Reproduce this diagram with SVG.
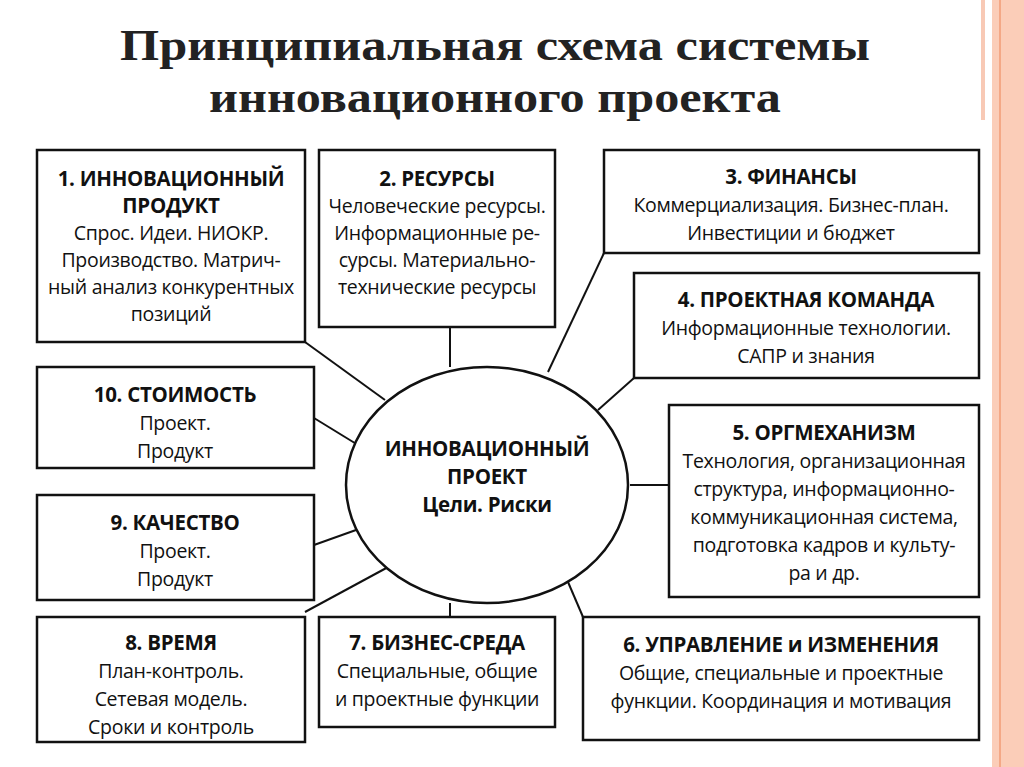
<svg xmlns="http://www.w3.org/2000/svg" width="1024" height="767" viewBox="0 0 1024 767">
<style>
.b{fill:#fff;stroke:#111;stroke-width:2.5}
.t{font-family:"Open Sans","DejaVu Sans",sans-serif;font-size:19.5px;fill:#111;text-anchor:middle;letter-spacing:-0.3px}
.h{font-weight:bold;font-size:20.5px}
.ttl{font-family:"Liberation Serif",serif;font-weight:bold;font-size:44px;fill:#222;text-anchor:middle}
.c line{stroke:#111;stroke-width:2}
</style>
<rect width="1024" height="767" fill="#fff"/>
<rect x="981" y="0" width="4" height="120" fill="#f8c9b5"/>
<rect x="992" y="0" width="32" height="767" fill="#fbcdb8"/>
<rect x="999" y="0" width="2" height="767" fill="#f4a886"/>
<text class="ttl" x="495" y="60" textLength="750" lengthAdjust="spacingAndGlyphs">Принципиальная схема системы</text>
<text class="ttl" x="495" y="112" textLength="572" lengthAdjust="spacingAndGlyphs">инновационного проекта</text>
<g class="c">
<line x1="305" y1="342" x2="385" y2="400"/>
<line x1="450" y1="327" x2="450" y2="367"/>
<line x1="604" y1="253" x2="548" y2="372"/>
<line x1="634" y1="378" x2="598" y2="410"/>
<line x1="669" y1="485" x2="630" y2="485"/>
<line x1="583" y1="617" x2="565" y2="575"/>
<line x1="450" y1="617" x2="450" y2="603"/>
<line x1="305" y1="612" x2="390" y2="566"/>
<line x1="314" y1="545" x2="356" y2="530"/>
<line x1="314" y1="418" x2="358" y2="445"/>
</g>
<g id="center"><ellipse cx="487" cy="485" rx="141" ry="118" fill="#fff" stroke="#111" stroke-width="2.5"/>
<text class="t h" x="487" y="456">ИННОВАЦИОННЫЙ</text><text class="t h" x="487" y="484">ПРОЕКТ</text><text class="t h" x="487" y="512">Цели. Риски</text></g>
<g id="n1"><rect class="b" x="37" y="150" width="268" height="192"/>
<text class="t h" x="171" y="186">1. ИННОВАЦИОННЫЙ</text><text class="t h" x="171" y="213">ПРОДУКТ</text>
<text class="t" x="171" y="240">Спрос. Идеи. НИОКР.</text><text class="t" x="171" y="267">Производство. Матрич-</text><text class="t" x="171" y="294">ный анализ конкурентных</text><text class="t" x="171" y="321">позиций</text></g>
<g id="n2"><rect class="b" x="319" y="150" width="236" height="177"/>
<text class="t h" x="437" y="186">2. РЕСУРСЫ</text><text class="t" x="437" y="213">Человеческие ресурсы.</text><text class="t" x="437" y="240">Информационные ре-</text><text class="t" x="437" y="267">сурсы. Материально-</text><text class="t" x="437" y="294">технические ресурсы</text></g>
<g id="n3"><rect class="b" x="604" y="150" width="375" height="103"/>
<text class="t h" x="791" y="184">3. ФИНАНСЫ</text><text class="t" x="791" y="212">Коммерциализация. Бизнес-план.</text><text class="t" x="791" y="240">Инвестиции и бюджет</text></g>
<g id="n4"><rect class="b" x="634" y="273" width="345" height="105"/>
<text class="t h" x="806" y="307">4. ПРОЕКТНАЯ КОМАНДА</text><text class="t" x="806" y="335">Информационные технологии.</text><text class="t" x="806" y="363">САПР и знания</text></g>
<g id="n5"><rect class="b" x="669" y="405" width="310" height="192"/>
<text class="t h" x="824" y="440">5. ОРГМЕХАНИЗМ</text><text class="t" x="824" y="468">Технология, организационная</text><text class="t" x="824" y="496">структура, информационно-</text><text class="t" x="824" y="524">коммуникационная система,</text><text class="t" x="824" y="552">подготовка кадров и культу-</text><text class="t" x="824" y="580">ра и др.</text></g>
<g id="n6"><rect class="b" x="583" y="617" width="396" height="123"/>
<text class="t h" x="781" y="652">6. УПРАВЛЕНИЕ и ИЗМЕНЕНИЯ</text><text class="t" x="781" y="680">Общие, специальные и проектные</text><text class="t" x="781" y="708">функции. Координация и мотивация</text></g>
<g id="n7"><rect class="b" x="319" y="617" width="236" height="110"/>
<text class="t h" x="437" y="650">7. БИЗНЕС-СРЕДА</text><text class="t" x="437" y="678">Специальные, общие</text><text class="t" x="437" y="706">и проектные функции</text></g>
<g id="n8"><rect class="b" x="37" y="617" width="268" height="125"/>
<text class="t h" x="171" y="650">8. ВРЕМЯ</text><text class="t" x="171" y="678">План-контроль.</text><text class="t" x="171" y="706">Сетевая модель.</text><text class="t" x="171" y="734">Сроки и контроль</text></g>
<g id="n9"><rect class="b" x="37" y="495" width="277" height="105"/>
<text class="t h" x="175" y="530">9. КАЧЕСТВО</text><text class="t" x="175" y="558">Проект.</text><text class="t" x="175" y="586">Продукт</text></g>
<g id="n10"><rect class="b" x="37" y="367" width="277" height="101"/>
<text class="t h" x="175" y="402">10. СТОИМОСТЬ</text><text class="t" x="175" y="430">Проект.</text><text class="t" x="175" y="458">Продукт</text></g>
</svg>
